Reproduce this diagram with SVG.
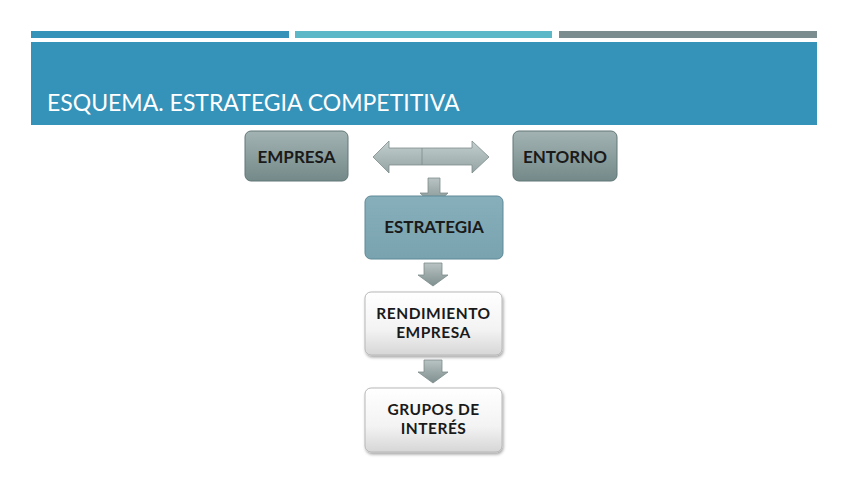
<svg xmlns="http://www.w3.org/2000/svg" width="848" height="477" viewBox="0 0 848 477">
<defs>
<linearGradient id="gGray" x1="0" y1="0" x2="0" y2="1"><stop offset="0" stop-color="#a3b3b3"/><stop offset="1" stop-color="#748989"/></linearGradient>
<linearGradient id="gTeal" x1="0" y1="0" x2="0" y2="1"><stop offset="0" stop-color="#86afbb"/><stop offset="1" stop-color="#7aa3b0"/></linearGradient>
<linearGradient id="gWhite" x1="0" y1="0" x2="0" y2="1"><stop offset="0" stop-color="#ffffff"/><stop offset="0.6" stop-color="#f3f3f3"/><stop offset="1" stop-color="#d6d6d6"/></linearGradient>
<linearGradient id="gArrow" x1="0" y1="0" x2="0" y2="1"><stop offset="0" stop-color="#c4cfcf"/><stop offset="1" stop-color="#93a3a3"/></linearGradient>
<linearGradient id="gDown" x1="0" y1="0" x2="0" y2="1"><stop offset="0" stop-color="#b9c3c3"/><stop offset="1" stop-color="#7f8f8f"/></linearGradient>
<filter id="sh" x="-10%" y="-10%" width="125%" height="130%"><feDropShadow dx="1" dy="2" stdDeviation="1.5" flood-color="#000" flood-opacity="0.35"/></filter>
</defs>
<style>
.lbl{font-family:Lato,"Open Sans","Liberation Sans",sans-serif;font-weight:bold;font-size:17px;fill:#1a1a1a;text-anchor:middle}
.lbl2{font-size:15.5px;letter-spacing:0.5px}
.title{font-family:Lato,"Open Sans","Liberation Sans",sans-serif;font-size:23px;fill:#fff}
.gbox{fill:url(#gGray);stroke:#627676;stroke-width:1}
.wbox{fill:url(#gWhite);stroke:#b8b8b8;stroke-width:1;filter:url(#sh)}
.arr{fill:url(#gDown);stroke:#7d8c8c;stroke-width:0.8}
</style>
<rect width="848" height="477" fill="#fff"/>
<g id="header">
<rect x="31" y="31" width="258" height="7" fill="#3592b9"/>
<rect x="295" y="31" width="257" height="7" fill="#5cb8c6"/>
<rect x="559" y="31" width="258" height="7" fill="#7b8d8f"/>
<rect x="31" y="42" width="786" height="83" fill="#3592b9"/>
<text class="title" x="47" y="111">ESQUEMA. ESTRATEGIA COMPETITIVA</text>
</g>
<g id="connectors">
<path class="arr" style="fill:url(#gArrow)" d="M373,157 L389,141 L389,148 L472,148 L472,141 L489,157 L472,173 L472,165 L389,165 L389,173 Z"/>
<line x1="422" y1="148" x2="422" y2="165" stroke="#7d8c8c" stroke-width="0.8"/>
<path class="arr" d="M428,178 L440,178 L440,193 L448,193 L434,206 L420,193 L428,193 Z"/>
<path class="arr" d="M424,263 L442,263 L442,275 L448,275 L433,286 L418,275 L424,275 Z"/>
<path class="arr" d="M424,360 L442,360 L442,372 L448,372 L433,383 L418,372 L424,372 Z"/>
</g>
<g id="empresa">
<rect class="gbox" x="245" y="131" width="103" height="50" rx="6"/>
<text class="lbl" x="296.5" y="163">EMPRESA</text>
</g>
<g id="entorno">
<rect class="gbox" x="513" y="131" width="104" height="50" rx="6"/>
<text class="lbl" x="565" y="163">ENTORNO</text>
</g>
<g id="estrategia">
<rect x="365" y="196" width="138" height="63" rx="6" fill="url(#gTeal)" stroke="#5e8997" stroke-width="1"/>
<text class="lbl" x="434" y="233">ESTRATEGIA</text>
</g>
<g id="rendimiento">
<rect class="wbox" x="365" y="292" width="137" height="63" rx="6"/>
<text class="lbl lbl2" x="433.5" y="319">RENDIMIENTO</text>
<text class="lbl lbl2" x="433.5" y="338">EMPRESA</text>
</g>
<g id="grupos">
<rect class="wbox" x="365" y="388" width="137" height="64" rx="6"/>
<text class="lbl lbl2" x="433.5" y="415">GRUPOS DE</text>
<text class="lbl lbl2" x="433.5" y="434">INTERÉS</text>
</g>
</svg>
